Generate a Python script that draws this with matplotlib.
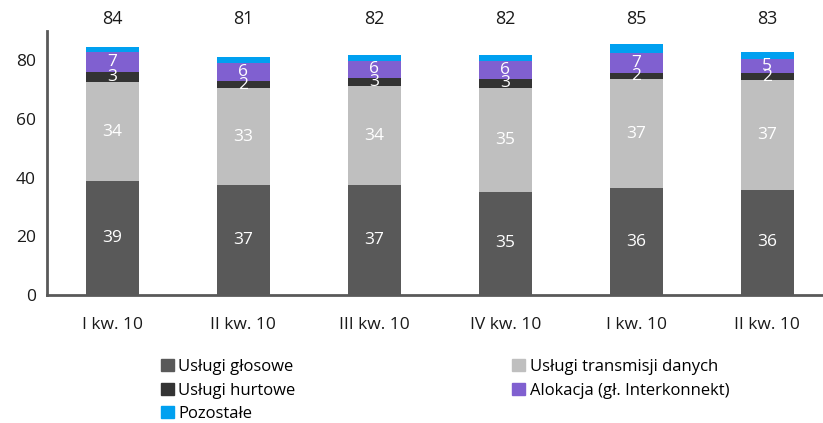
import matplotlib
matplotlib.use("Agg")
import matplotlib.pyplot as plt
from matplotlib.patches import Patch

plt.rcParams['font.family'] = ['Open Sans', 'DejaVu Sans']

categories = ["I kw. 10", "II kw. 10", "III kw. 10", "IV kw. 10", "I kw. 10", "II kw. 10"]
voice = [38.9, 37.4, 37.4, 35.2, 36.4, 35.8]
data = [33.6, 33.1, 33.8, 35.4, 37.2, 37.4]
wholesale = [3.4, 2.4, 2.8, 3.1, 2.1, 2.4]
allocation = [6.8, 6.2, 5.8, 6.2, 6.8, 4.8]
other = [1.7, 2.0, 2.0, 2.0, 3.1, 2.4]
totals = [84, 81, 82, 82, 85, 83]

series = [
    ("Usługi głosowe", voice, "#595959", True),
    ("Usługi transmisji danych", data, "#BFBFBF", True),
    ("Usługi hurtowe", wholesale, "#333333", True),
    ("Alokacja (gł. Interkonnekt)", allocation, "#8060D0", True),
    ("Pozostałe", other, "#00A0F0", False),
]

fig = plt.figure(figsize=(8.23, 4.23), dpi=100)
ax = fig.add_axes([47/823, (423-295)/423, (822-47)/823, (295-31)/423])

x = list(range(len(categories)))
bottom = [0.0]*len(categories)
for name, vals, color, show in series:
    ax.bar(x, vals, bottom=bottom, width=0.405, color=color, label=name, zorder=2)
    if show:
        for i, v in enumerate(vals):
            ax.text(i, bottom[i] + v/2, f"{v:.0f}", ha="center", va="center",
                    color="white", fontsize=12.5, zorder=3)
    bottom = [b + v for b, v in zip(bottom, vals)]

for i, t in enumerate(totals):
    ax.text(i, 94.0, str(t), ha="center", va="center", fontsize=13, color="#1a1a1a", clip_on=False)

ax.set_ylim(0, 90)
ax.set_xlim(-0.5, 5.42)
ax.set_yticks([0, 20, 40, 60, 80])
ax.set_xticks(x)
ax.set_xticklabels(categories)
ax.tick_params(axis="both", length=0, labelsize=12.5, colors="#1a1a1a")
ax.tick_params(axis="x", pad=16)
ax.tick_params(axis="y", pad=8)
for s in ["top", "right"]:
    ax.spines[s].set_visible(False)
for s in ["left", "bottom"]:
    ax.spines[s].set_color("#595959")
    ax.spines[s].set_linewidth(2)

order = [0, 2, 4, 1, 3]
handles = [Patch(color=series[k][2], label=series[k][0]) for k in order]
fig.legend(handles=handles, loc="upper left", bbox_to_anchor=(161/823, 1 - 359/423),
           ncol=2, frameon=False, fontsize=12, handlelength=0.75, handleheight=0.75,
           handletextpad=0.3, labelspacing=0.45, columnspacing=13.0, borderaxespad=0, borderpad=0)

fig.savefig("out.png", dpi=100)
